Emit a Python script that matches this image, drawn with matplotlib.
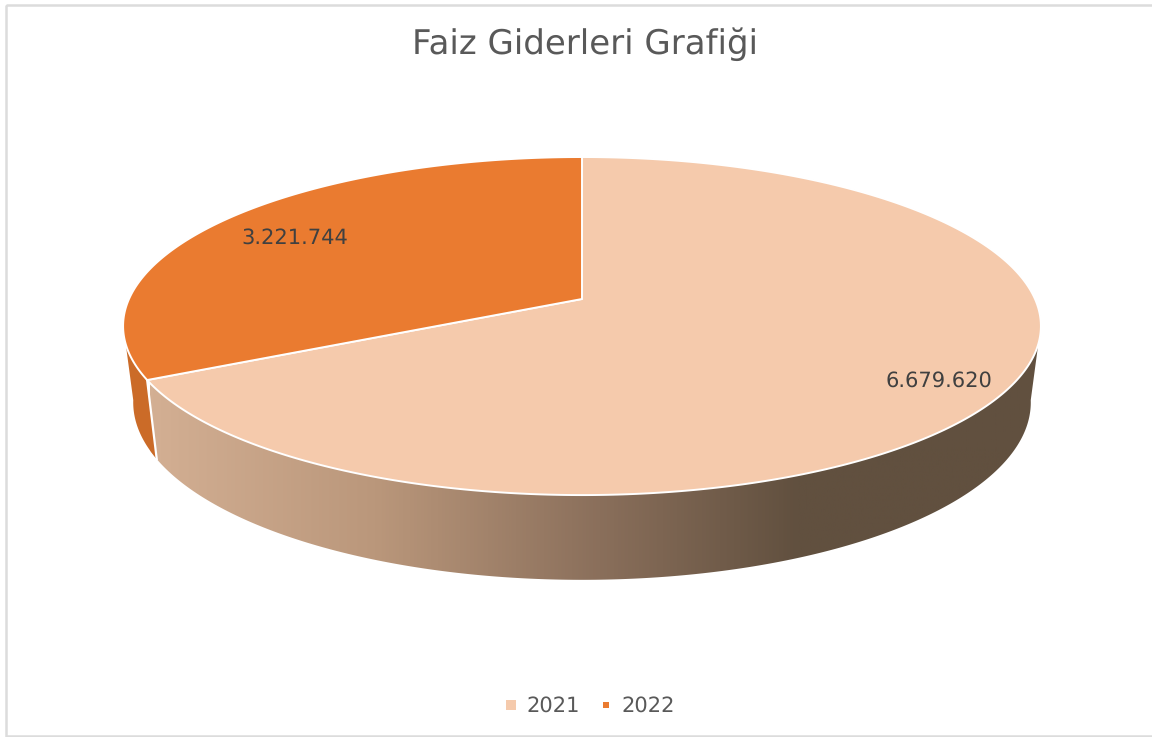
import matplotlib
matplotlib.use('Agg')
import matplotlib.pyplot as plt
import numpy as np
from matplotlib.colors import LinearSegmentedColormap
from matplotlib.lines import Line2D
from matplotlib.patches import Polygon, Rectangle

plt.rcParams['font.family'] = ['DejaVu Sans']
plt.rcParams['text.hinting'] = 'no_hinting'
plt.rcParams['text.hinting_factor'] = 1

# Data
categories = ['2021', '2022']
values = [6679620, 3221744]
value_labels = ['6.679.620', '3.221.744']
title = 'Faiz Giderleri Grafiği'

colors = ['#F5CAAC', '#EA7B30']
side_orange = '#CB6B28'
text_color = '#404040'
legend_color = '#595959'

# perspective of the pie, in pixels of the picture
cx = 582
persp = 0.16
top_rim = dict(vy=299, ay=164.7, ax=453)
low_rim = dict(vy=374, ay=172.9, ax=443)


def rim(theta, vy, ay, ax):
    # theta in degrees, clockwise from 12 o'clock
    t = np.radians(theta)
    w = 1 + persp * np.cos(t)
    return cx + ax * np.sin(t) / w, vy - ay * np.cos(t) / w


fig, ax = plt.subplots(figsize=(11.52, 7.37), dpi=100)
ax.set_position([0, 0, 1, 1])
ax.axis('off')

ax.add_patch(Rectangle((6, 5), 1160, 731, fill=False, edgecolor='#DCDCDC', linewidth=1.8))

split = 360 * values[0] / sum(values)

# outline of the visible side
th = np.linspace(0, 360, 1441)
tx, ty = rim(th, **top_rim)
lx, ly = rim(th, **low_rim)
top_mask = ty >= 344
low_mask = ly >= 400
side_x = np.r_[tx[top_mask], lx[low_mask][::-1]]
side_y = np.r_[ty[top_mask], ly[low_mask][::-1]]
side = Polygon(np.c_[side_x, side_y], closed=True, facecolor='none', edgecolor='none')
ax.add_patch(side)

# shaded front of the big slice
shade = LinearSegmentedColormap.from_list(
    'shade', [(0, '#D3AF93'), (0.25, '#BA977B'), (0.5, '#8A6F5B'), (0.72, '#61503F'), (1, '#61503F')])
grad = np.linspace(0, 1, 512).reshape(1, -1)
img = ax.imshow(grad, cmap=shade, extent=(150, 1050, 600, 300), aspect='auto', zorder=2)
img.set_clip_path(side)

# front of the small slice, left of the split
sm_top = top_mask & (th >= split)
sm_low = low_mask & (th >= split)
ax.add_patch(Polygon(np.c_[np.r_[tx[sm_top], lx[sm_low][::-1]], np.r_[ty[sm_top], ly[sm_low][::-1]]],
                     closed=True, facecolor=side_orange, edgecolor='none', zorder=3))
bx, by = rim(np.array([split, split]), **top_rim)
bx[1], by[1] = [v[0] for v in rim(np.array([split]), **low_rim)]
ax.plot(bx, by, color='white', linewidth=1.6, zorder=4)

# top faces
starts = [0, split]
ends = [split, 360]
for a, b, c in zip(starts, ends, colors):
    t = np.linspace(a, b, 500)
    x, y = rim(t, **top_rim)
    ax.add_patch(Polygon(np.c_[np.r_[cx, x], np.r_[top_rim['vy'], y]], closed=True,
                         facecolor=c, edgecolor='white', linewidth=1.4, joinstyle='round', zorder=5))

ax.text(939, 381, value_labels[0], ha='center', va='center', fontsize=14.8, color=text_color, zorder=6)
ax.text(295, 238, value_labels[1], ha='center', va='center', fontsize=14.8, color=text_color, zorder=6)

ax.text(585, 44, title, ha='center', va='center', fontsize=24.3, color=legend_color)

handles = [Line2D([], [], linestyle='none', marker='s', markersize=ms, color=c, markeredgewidth=0)
           for c, ms in zip(colors, [6.5, 5])]
ax.legend(handles, categories, loc='center', bbox_to_anchor=(588, 706), bbox_transform=ax.transData,
          ncol=2, frameon=False, fontsize=14.9, labelcolor=legend_color, handletextpad=0.25,
          columnspacing=0.75, handlelength=1.0, borderpad=0)

ax.set_xlim(0, 1152)
ax.set_ylim(737, 0)

fig.savefig('out.png', dpi=100)
